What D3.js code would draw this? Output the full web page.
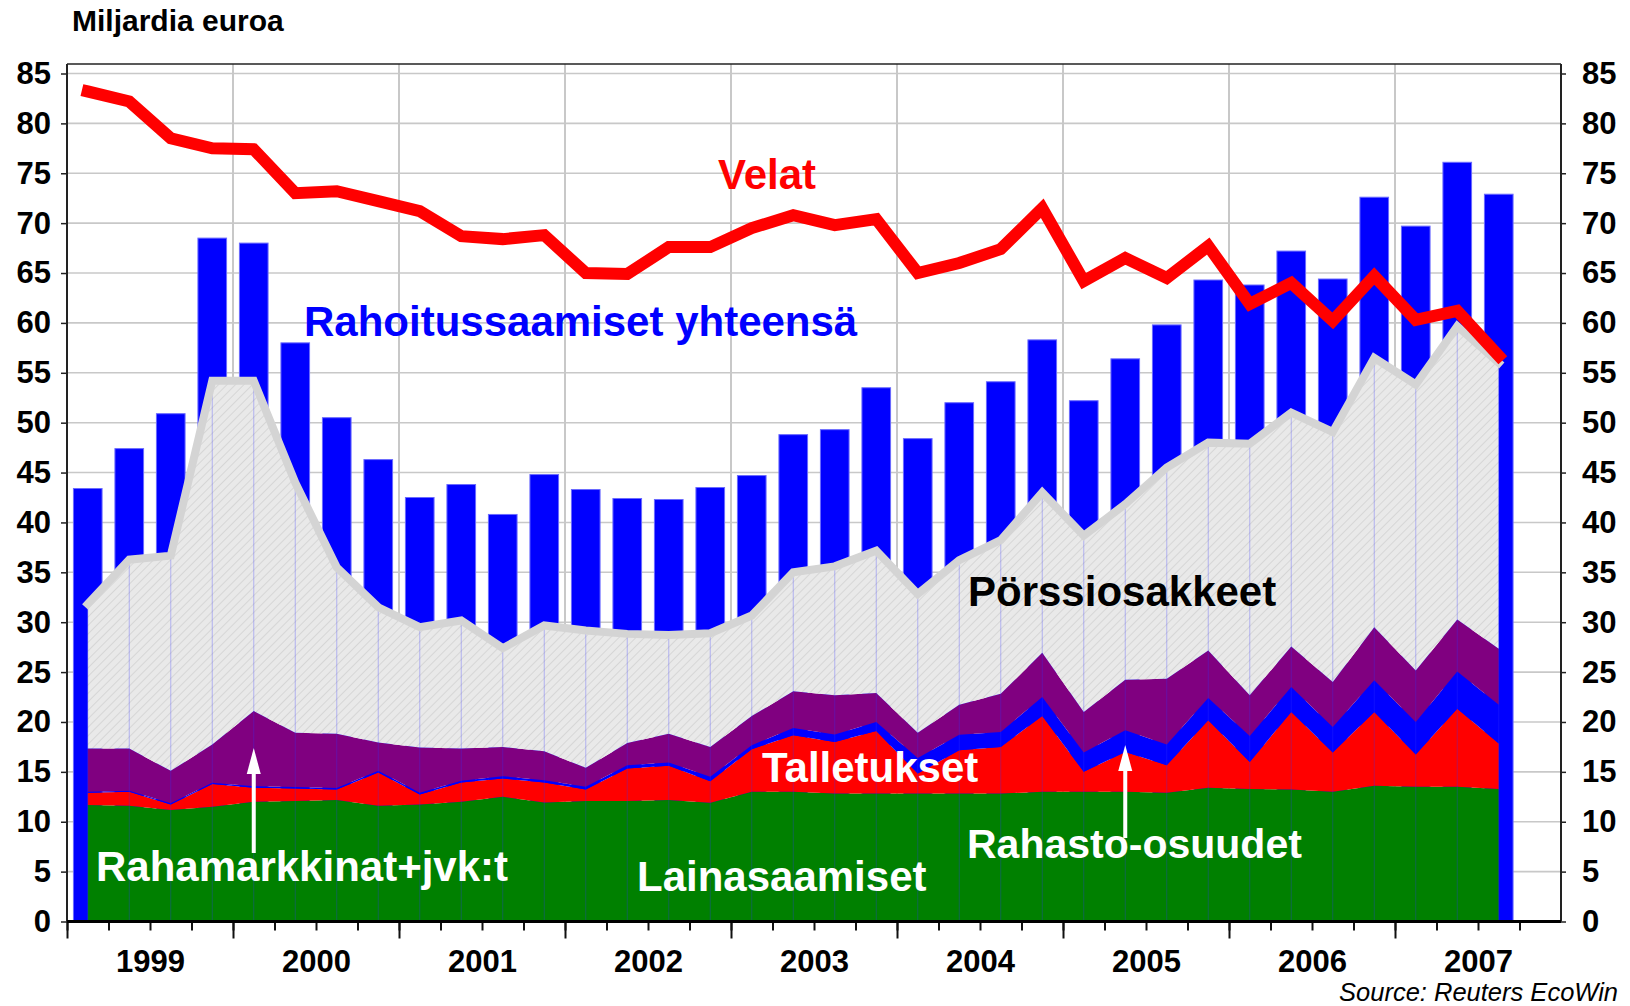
<!DOCTYPE html>
<html lang="fi">
<head>
<meta charset="utf-8">
<title>Rahoitussaamiset ja velat</title>
<script src="https://cdn.jsdelivr.net/npm/d3@7"></script>
<style>
  html, body { margin: 0; padding: 0; background: #fff; }
  svg { display: block; font-family: 'Liberation Sans', Arial, Helvetica, sans-serif; }
</style>
</head>
<body>
<svg id="chart"></svg>
<script>
// vuodet (akselin tekstit) ja neljännekset 1999Q1 - 2007Q3
const years = [1999, 2000, 2001, 2002, 2003, 2004, 2005, 2006, 2007]
const quarters = years.flatMap((y) => [1, 2, 3, 4].map((q) => `${y}Q${q}`)).slice(0, 35)

// Rahoitussaamiset yhteensä (pylväät)
const rahoitussaamiset = [
  43.4, 47.4, 50.9, 68.5, 68.0, 58.0, 50.5, 46.3, 42.5, 43.8,
  40.8, 44.8, 43.3, 42.4, 42.3, 43.5, 44.7, 48.8, 49.3, 53.5,
  48.4, 52.0, 54.1, 58.3, 52.2, 56.4, 59.8, 64.3, 63.8, 67.2,
  64.4, 72.6, 69.7, 76.1, 72.9,
]

// Velat (viiva)
const velat = [
  83.2, 82.2, 78.5, 77.5, 77.4, 73.0, 73.2, 72.2, 71.2, 68.7,
  68.4, 68.8, 65.0, 64.9, 67.6, 67.6, 69.5, 70.8, 69.8, 70.4,
  65.0, 66.0, 67.4, 71.5, 64.2, 66.5, 64.5, 67.7, 61.9, 64.0,
  60.2, 64.7, 60.3, 61.2, 56.7,
]

// pinotut alueet, alhaalta ylös
const lainasaamiset = [
  11.67, 11.6, 11.17, 11.5, 12.0, 12.07, 12.17, 11.6, 11.73, 12.0,
  12.5, 11.93, 12.07, 12.07, 12.17, 11.9, 13.0, 13.0, 12.83, 12.83,
  12.83, 12.83, 12.83, 13.0, 13.0, 13.0, 12.9, 13.4, 13.27, 13.23,
  13.0, 13.6, 13.5, 13.5, 13.27,
]
const talletukset = [
  1.23, 1.4, 0.56, 2.27, 1.4, 1.26, 1.06, 3.33, 1.0, 1.93,
  1.83, 2.0, 1.16, 3.26, 3.43, 2.17, 4.27, 5.67, 5.17, 6.27,
  2.0, 4.34, 4.67, 7.6, 2.0, 4.0, 2.77, 6.77, 2.73, 7.77,
  3.93, 7.4, 3.23, 7.83, 4.56,
]
const rahastoOsuudet = [
  0.1, 0.1, 0.12, 0.13, 0.15, 0.15, 0.15, 0.17, 0.17, 0.17,
  0.24, 0.24, 0.27, 0.34, 0.33, 0.43, 0.4, 0.73, 0.75, 0.9,
  1.57, 1.56, 1.5, 1.9, 1.93, 2.17, 2.06, 2.23, 2.6, 2.5,
  2.57, 3.17, 3.27, 3.74, 3.9,
]
const rahamarkkinat = [
  4.33, 4.23, 3.25, 3.83, 7.55, 5.45, 5.45, 2.83, 4.53, 3.23,
  2.93, 2.9, 1.9, 2.23, 2.9, 3.0, 2.93, 3.67, 3.92, 2.9,
  2.53, 3.0, 3.83, 4.43, 4.07, 5.06, 6.6, 4.77, 4.07, 4.07,
  4.5, 5.33, 5.17, 5.2, 5.6,
]
const porssiosakkeet = [
  14.5, 18.94, 21.57, 36.47, 33.1, 25.07, 16.67, 13.57, 12.07, 12.84,
  9.9, 12.6, 13.77, 10.93, 9.9, 11.4, 10.07, 11.93, 12.93, 14.27,
  13.9, 14.5, 15.4, 16.07, 17.67, 17.6, 21.17, 20.83, 25.23, 23.43,
  25.07, 27.0, 28.66, 29.4, 28.67,
]

const layerKeys = ['laina', 'talletus', 'rahasto', 'rahamarkkina', 'porssi']
const layerColors = ['#008000', '#ff0000', '#0000ff', '#800080', 'url(#hatch)']

const table = quarters.map((q, i) => ({
  q,
  i,
  laina: lainasaamiset[i],
  talletus: talletukset[i],
  rahasto: rahastoOsuudet[i],
  rahamarkkina: rahamarkkinat[i],
  porssi: porssiosakkeet[i],
}))

const w = 1630
const h = 1006
const plotLeft = 67
const plotRight = 1561
const plotTop = 64
const plotBottom = 921.5

const x = d3.scaleLinear().domain([0, 36]).range([plotLeft, plotRight])
const y = d3.scaleLinear().domain([0, 85]).range([plotBottom, 73.5])
const step = x(1) - x(0)
const barW = step * 0.69

const svg = d3.select('#chart').attr('width', w).attr('height', h)

const defs = svg.append('defs')
const pat = defs
  .append('pattern')
  .attr('id', 'hatch')
  .attr('patternUnits', 'userSpaceOnUse')
  .attr('width', 6)
  .attr('height', 6)
  .attr('patternTransform', 'rotate(45)')
pat.append('rect').attr('width', 6).attr('height', 6).attr('fill', '#e9e9e9')
pat.append('line').attr('x1', 0).attr('y1', 0).attr('x2', 0).attr('y2', 6)
  .attr('stroke', '#d2d2d2').attr('stroke-width', 1.6)

// ruudukko
const grid = svg.append('g')
grid.selectAll('.hgrid')
  .data(d3.range(5, 90, 5))
  .enter()
  .append('line')
  .attr('x1', plotLeft)
  .attr('x2', plotRight)
  .attr('y1', (d) => y(d))
  .attr('y2', (d) => y(d))
  .attr('stroke', '#c8c8c8')
  .attr('stroke-width', 1.6)
grid.selectAll('.vgrid')
  .data(d3.range(4, 36, 4))
  .enter()
  .append('line')
  .attr('x1', (d) => x(d))
  .attr('x2', (d) => x(d))
  .attr('y1', plotTop)
  .attr('y2', plotBottom)
  .attr('stroke', '#c8c8c8')
  .attr('stroke-width', 2)

// pylväät
svg.append('g')
  .selectAll('rect')
  .data(rahoitussaamiset)
  .enter()
  .append('rect')
  .attr('x', (d, i) => x(i + 0.5) - barW / 2)
  .attr('width', barW)
  .attr('y', (d) => y(d))
  .attr('height', (d) => y(0) - y(d))
  .attr('fill', '#0000ff')
  .attr('stroke', '#6a6aff')
  .attr('stroke-width', 1)

// pinotut alueet
const stacked = d3.stack().keys(layerKeys)(table)
const area = d3.area()
  .x((d) => x(d.data.i + 0.5))
  .y0((d) => y(d[0]))
  .y1((d) => y(d[1]))

svg.append('g')
  .selectAll('path')
  .data(stacked)
  .enter()
  .append('path')
  .attr('d', area)
  .attr('fill', (d, i) => layerColors[i])

const topValues = stacked[stacked.length - 1].map((d) => d[1])

// ohuet pystyviivat datapisteissä
svg.append('g')
  .selectAll('line')
  .data(topValues)
  .enter()
  .append('line')
  .attr('x1', (d, i) => x(i + 0.5))
  .attr('x2', (d, i) => x(i + 0.5))
  .attr('y1', y(0))
  .attr('y2', (d) => y(d))
  .attr('stroke', '#3333ff')
  .attr('stroke-opacity', 0.3)
  .attr('stroke-width', 1)

// pörssiosakkeiden yläreuna
svg.append('path')
  .datum(topValues)
  .attr('d', d3.line().x((d, i) => x(i + 0.5)).y((d) => y(d)))
  .attr('fill', 'none')
  .attr('stroke', '#d4d4d4')
  .attr('stroke-width', 8)
  .attr('stroke-linecap', 'square')

// velat
svg.append('path')
  .datum(velat)
  .attr('d', d3.line().x((d, i) => x(i + 0.5)).y((d) => y(d)))
  .attr('fill', 'none')
  .attr('stroke', '#ff0000')
  .attr('stroke-width', 12)
  .attr('stroke-linecap', 'square')
  .attr('stroke-miterlimit', 6)

// nuolet
function arrow(xi, yBottom, yTip) {
  const cx = x(xi)
  const g = svg.append('g').attr('fill', '#fff')
  g.append('rect')
    .attr('x', cx - 2)
    .attr('width', 4)
    .attr('y', yTip + 20)
    .attr('height', yBottom - yTip - 20)
  g.append('path')
    .attr('d', `M${cx},${yTip} L${cx - 7},${yTip + 26} L${cx + 7},${yTip + 26} Z`)
}
arrow(4.5, 853, 748)
arrow(25.5, 838, 745)

// tekstit
const labels = [
  { text: 'Velat', x: 718, y: 189, color: '#ff0000', size: 42 },
  { text: 'Rahoitussaamiset yhteensä', x: 304, y: 336, color: '#0000ff', size: 42 },
  { text: 'Pörssiosakkeet', x: 968, y: 606, color: '#000', size: 42 },
  { text: 'Talletukset', x: 762, y: 782, color: '#fff', size: 42 },
  { text: 'Rahamarkkinat+jvk:t', x: 96, y: 881, color: '#fff', size: 42 },
  { text: 'Lainasaamiset', x: 637, y: 891, color: '#fff', size: 42 },
  { text: 'Rahasto-osuudet', x: 967, y: 858, color: '#fff', size: 41 },
]
svg.append('g')
  .selectAll('text')
  .data(labels)
  .enter()
  .append('text')
  .attr('x', (d) => d.x)
  .attr('y', (d) => d.y)
  .attr('fill', (d) => d.color)
  .style('font-size', (d) => `${d.size}px`)
  .style('font-weight', 'bold')
  .text((d) => d.text)

// akselit
const yTicks = d3.range(0, 90, 5)
const left = svg.append('g')
  .attr('transform', `translate(${plotLeft},0)`)
  .call(d3.axisLeft(y).tickValues(yTicks).tickSize(6).tickPadding(10))
const right = svg.append('g')
  .attr('transform', `translate(${plotRight},0)`)
  .call(d3.axisRight(y).tickValues(yTicks).tickSize(5).tickPadding(16))
;[left, right].forEach((g) => {
  g.select('.domain').remove()
  g.selectAll('line').attr('stroke', '#222').attr('stroke-width', 1.5)
  g.selectAll('text')
    .style('font-size', '31px')
    .style('font-weight', 'bold')
    .attr('fill', '#000')
})

const bottomMinor = svg.append('g')
  .attr('transform', `translate(0,${plotBottom})`)
  .call(d3.axisBottom(x).tickValues(d3.range(0, 36)).tickSize(9).tickFormat(''))
const bottomMajor = svg.append('g')
  .attr('transform', `translate(0,${plotBottom})`)
  .call(d3.axisBottom(x).tickValues(d3.range(0, 36, 4)).tickSize(17).tickFormat(''))
;[bottomMinor, bottomMajor].forEach((g) => {
  g.select('.domain').remove()
  g.selectAll('line').attr('stroke', '#111').attr('stroke-width', 2)
})
const yearAxis = svg.append('g')
  .attr('transform', `translate(0,${plotBottom})`)
  .call(
    d3.axisBottom(x)
      .tickValues(years.map((yr, i) => i * 4 + 2))
      .tickSize(0)
      .tickFormat((d) => years[(d - 2) / 4])
  )
yearAxis.select('.domain').remove()
yearAxis.selectAll('text')
  .attr('y', 50.5)
  .attr('dy', 0)
  .attr('fill', '#000')
  .style('font-size', '31px')
  .style('font-weight', 'bold')

// kehys
svg.append('line')
  .attr('x1', plotLeft).attr('x2', plotRight)
  .attr('y1', plotTop).attr('y2', plotTop)
  .attr('stroke', '#222').attr('stroke-width', 1.5)
svg.append('line')
  .attr('x1', plotLeft).attr('x2', plotLeft)
  .attr('y1', plotTop).attr('y2', plotBottom)
  .attr('stroke', '#222').attr('stroke-width', 2)
svg.append('line')
  .attr('x1', plotRight).attr('x2', plotRight)
  .attr('y1', plotTop).attr('y2', plotBottom)
  .attr('stroke', '#222').attr('stroke-width', 2)
svg.append('line')
  .attr('x1', plotLeft).attr('x2', plotRight)
  .attr('y1', plotBottom).attr('y2', plotBottom)
  .attr('stroke', '#000').attr('stroke-width', 3)

svg.append('text')
  .attr('x', 72)
  .attr('y', 31)
  .style('font-size', '30px')
  .style('font-weight', 'bold')
  .text('Miljardia euroa')

svg.append('text')
  .attr('x', 1618)
  .attr('y', 1001)
  .attr('text-anchor', 'end')
  .style('font-size', '25.5px')
  .style('font-style', 'italic')
  .text('Source: Reuters EcoWin')
</script>
</body>
</html>
